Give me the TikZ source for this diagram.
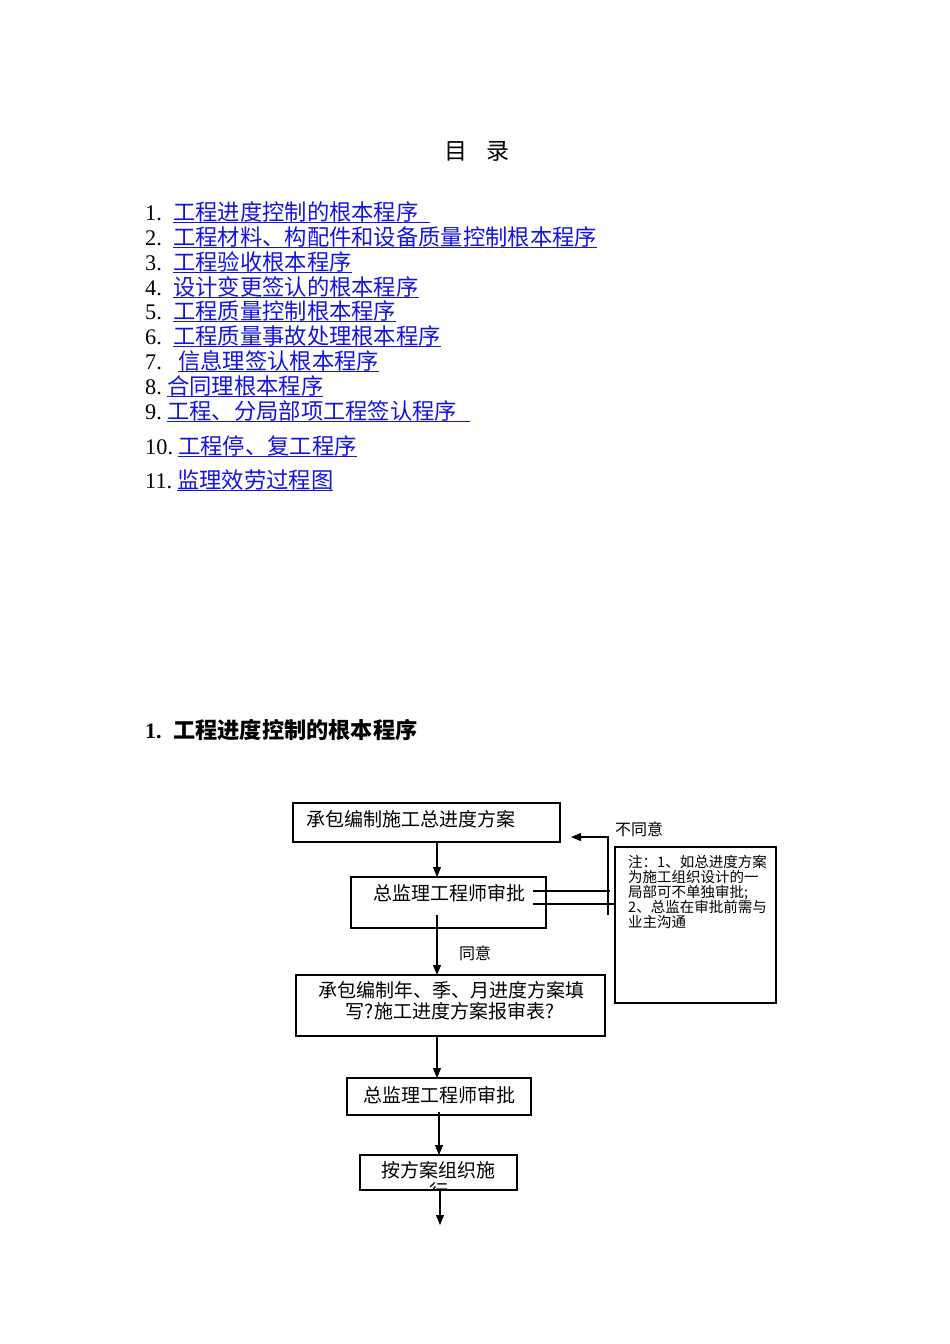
\documentclass[tikz,border=0pt]{standalone}
\usepackage{fontspec}
\setmainfont{Liberation Serif}
\newfontfamily\cjk{Noto Sans CJK SC}
\usetikzlibrary{arrows.meta}
\definecolor{lnk}{RGB}{20,20,225}
\newcommand\myul[1]{\setbox0\hbox{#1}\rlap{\color{lnk}\rule[-3.2pt]{\wd0}{1pt}}\box0}
\begin{document}
\begin{tikzpicture}[x=1pt,y=-1pt,
  num/.style={inner sep=0, anchor=base west, font=\fontsize{22.3}{26}\selectfont},
  toc/.style={inner sep=0, anchor=base west, text=lnk, font=\fontsize{22.3}{26}\selectfont\cjk},
  box/.style={draw, line width=1.2pt, inner sep=0, outer sep=0, anchor=north west},
  ft/.style={inner sep=0, font=\fontsize{19}{21}\selectfont\cjk},
  small/.style={inner sep=0, anchor=base west, font=\fontsize{14.5}{15}\selectfont\cjk},
  lbl/.style={inner sep=0, font=\fontsize{16}{18}\selectfont\cjk},
  ln/.style={line width=1.1pt},
  arr/.style={line width=1.1pt, -{Triangle[length=10pt,width=8pt]}}]
\fill[white] (0,0) rectangle (950,1344);
\useasboundingbox (0,0) rectangle (950,1344);

% title
\node[inner sep=0, anchor=base, font=\fontsize{23}{26}\selectfont\cjk] (title) at (477,159) {目\hspace{20pt}录};

% table of contents
\node[num] (n1) at (145,220) {1.};
\node[toc] (c1) at (173,220) {\myul{工程进度控制的根本程序\hspace{11pt}}};
\node[num] (n2) at (145,245) {2.};
\node[toc] (c2) at (173,245) {\myul{工程材料、构配件和设备质量控制根本程序}};
\node[num] (n3) at (145,270) {3.};
\node[toc] (c3) at (173,270) {\myul{工程验收根本程序}};
\node[num] (n4) at (145,295) {4.};
\node[toc] (c4) at (173,295) {\myul{设计变更签认的根本程序}};
\node[num] (n5) at (145,319) {5.};
\node[toc] (c5) at (173,319) {\myul{工程质量控制根本程序}};
\node[num] (n6) at (145,344) {6.};
\node[toc] (c6) at (173,344) {\myul{工程质量事故处理根本程序}};
\node[num] (n7) at (145,369) {7.};
\node[toc] (c7) at (178,369) {\myul{信息理签认根本程序}};
\node[num] (n8) at (145,394) {8.};
\node[toc] (c8) at (167,394) {\myul{合同理根本程序}};
\node[num] (n9) at (145,419) {9.};
\node[toc] (c9) at (167,419) {\myul{工程、分局部项工程签认程序\hspace{13pt}}};
\node[num] (n10) at (145,454) {10.};
\node[toc] (c10) at (178,454) {\myul{工程停、复工程序}};
\node[num] (n11) at (145,488) {11.};
\node[toc] (c11) at (177,488) {\myul{监理效劳过程图}};

% heading
\node[num, font=\fontsize{22}{26}\selectfont\bfseries] (hn) at (145,738) {1.};
\node[inner sep=0, anchor=base west, font=\fontsize{22.2}{26}\selectfont\cjk\bfseries] (ht) at (173,738) {工程进度控制的根本程序};

% flowchart boxes
\node[box, minimum width=267pt, minimum height=39pt] (b1) at (293,803) {};
\node[box, minimum width=195pt, minimum height=51pt] (b2) at (351,877) {};
\node[box, minimum width=309pt, minimum height=61pt] (b3) at (296,975) {};
\node[box, minimum width=184pt, minimum height=37pt] (b4) at (347,1078) {};
\node[box, minimum width=157pt, minimum height=35pt] (b5) at (360,1155) {};
\node[box, minimum width=161pt, minimum height=156pt] (note) at (615,847) {};

% box texts
\node[ft, anchor=west] (t1) at (306,819) {承包编制施工总进度方案};
\node[ft] (t2) at (449,893) {总监理工程师审批};
\node[ft] (t3a) at (451,990) {承包编制年、季、月进度方案填};
\node[ft] (t3b) at (450,1011) {写?施工进度方案报审表?};
\node[ft] (t4) at (439,1095) {总监理工程师审批};
\node[ft] (t5) at (438.5,1170) {按方案组织施};
\begin{scope}
\clip (360,1155) rectangle (517,1189.5);
\node[ft] (t5b) at (438.5,1191) {行};
\end{scope}

% note text
\node[small] (m1) at (628,867.5) {注：1、如总进度方案};
\node[small] (m2) at (628,882.5) {为施工组织设计的一};
\node[small] (m3) at (628,897.5) {局部可不单独审批;};
\node[small] (m4) at (628,912.5) {2、总监在审批前需与};
\node[small] (m5) at (628,927) {业主沟通};

% labels
\node[lbl, anchor=west] (l1) at (615,829) {不同意};
\node[lbl, anchor=west] (l2) at (459,953) {同意};

% connectors
\coordinate (a1) at (437,0);
\draw[arr] (b1.south -| a1) -- (b2.north -| a1);
\coordinate (s2) at (437,915);
\draw[arr] (s2) -- (b3.north -| s2);
\draw[arr] (b3.south -| a1) -- (b4.north -| a1);
\coordinate (s4) at (439,1112);
\draw[arr] (s4) -- (b5.north -| s4);
\coordinate (e5) at (440,1225);
\draw[arr] (b5.south -| e5) -- (e5);

% feedback
\coordinate (fa) at (533,891);
\coordinate (fb) at (533,904);
\coordinate (vt) at (608,836);
\coordinate (vb) at (608,915);
\coordinate (fe) at (571,837);
\coordinate (fx) at (610,0);
\draw[ln] (fa) -- (fa -| fx);
\draw[ln] (fb) -- (fb -| note.west);
\draw[ln] (vt) -- (vb);
\draw[arr] (vt |- fe) -- (fe);
\end{tikzpicture}
\end{document}
